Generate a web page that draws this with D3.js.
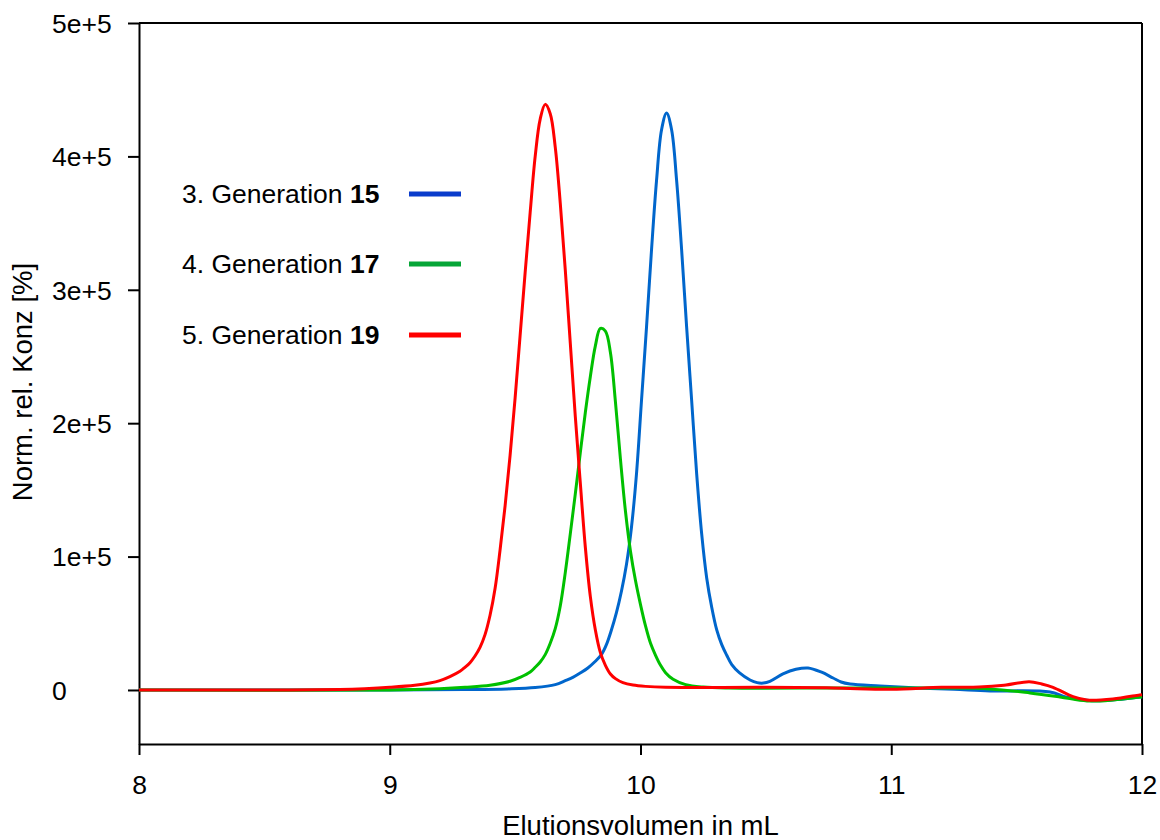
<!DOCTYPE html>
<html>
<head>
<meta charset="utf-8">
<script src="https://cdn.jsdelivr.net/npm/d3@7"></script>
<style>
  html, body { margin: 0; padding: 0; background: #fff; }
  svg { display: block; font-family: "Liberation Sans", Arial, sans-serif; }
</style>
</head>
<body>
<svg id="chart" width="1160" height="840"></svg>
<script>
// Elution volume (mL) and normalised concentration per dendrimer generation
const volGen3 = [8.0, 9.0, 9.3, 9.47, 9.58, 9.66, 9.70, 9.73, 9.759, 9.79, 9.82, 9.844, 9.864, 9.884, 9.904, 9.924, 9.944, 9.964, 9.984, 10.004, 10.024, 10.044, 10.064, 10.084, 10.104, 10.124, 10.144, 10.164, 10.184, 10.204, 10.224, 10.244, 10.264, 10.284, 10.304, 10.324, 10.344, 10.364, 10.394, 10.437, 10.465, 10.49, 10.516, 10.568, 10.62, 10.668, 10.72, 10.768, 10.80, 10.836, 10.955, 11.103, 11.25, 11.394, 11.633, 11.70, 11.80, 11.90, 12.0];
const valGen3 = [0, 0, 300, 800, 1800, 4000, 7000, 9500, 12700, 16500, 21500, 26500, 34000, 45000, 58000, 74000, 94000, 122000, 162000, 217000, 272000, 330000, 382000, 420000, 432500, 420000, 382000, 330000, 272000, 217000, 162000, 117000, 84000, 62000, 45000, 34000, 26000, 19000, 13000, 7500, 5500, 5200, 6500, 12000, 15500, 16500, 13500, 9000, 6000, 4500, 3000, 1500, 500, -700, -1500, -5500, -8000, -7200, -5000];

const volGen4 = [8.0, 9.0, 9.2, 9.3, 9.40, 9.48, 9.52, 9.56, 9.58, 9.60, 9.62, 9.64, 9.66, 9.68, 9.70, 9.72, 9.74, 9.76, 9.78, 9.80, 9.82, 9.84, 9.86, 9.88, 9.90, 9.92, 9.94, 9.96, 9.98, 10.00, 10.02, 10.04, 10.06, 10.08, 10.10, 10.13, 10.18, 10.25, 10.35, 10.8, 11.0, 11.2, 11.394, 11.553, 11.673, 11.781, 11.884, 11.992, 12.0];
const valGen4 = [0, 0, 1000, 2000, 3500, 6500, 9500, 13500, 17000, 21000, 26500, 35000, 46000, 63000, 88000, 117000, 147000, 178000, 208000, 235000, 258000, 271000, 269000, 253000, 216000, 173000, 134000, 104000, 82000, 64000, 48000, 35000, 26000, 18500, 13000, 8000, 4000, 2200, 1500, 1500, 1500, 1500, 800, -2200, -5200, -8200, -7500, -5200, -5000];

const volGen5 = [8.0, 8.6, 8.8, 8.9, 9.0, 9.10, 9.16, 9.20, 9.24, 9.28, 9.30, 9.32, 9.34, 9.36, 9.38, 9.40, 9.42, 9.44, 9.46, 9.48, 9.50, 9.52, 9.54, 9.56, 9.58, 9.60, 9.62, 9.64, 9.66, 9.68, 9.70, 9.72, 9.74, 9.76, 9.78, 9.80, 9.82, 9.84, 9.86, 9.88, 9.90, 9.93, 9.97, 10.02, 10.1, 10.5, 10.77, 11.0, 11.2, 11.35, 11.45, 11.55, 11.60, 11.645, 11.725, 11.78, 11.884, 11.99, 12.0];
const valGen5 = [0, 0, 400, 1000, 2000, 3500, 5200, 7000, 10000, 14000, 17000, 20500, 25500, 32000, 41500, 56000, 76000, 105000, 138000, 176000, 219000, 266000, 313000, 358000, 400000, 428000, 439000, 432000, 407000, 365000, 315000, 260000, 205000, 155000, 107000, 70000, 45000, 28000, 18500, 12000, 8500, 5500, 3700, 2700, 2000, 2000, 1500, 500, 2000, 2200, 3500, 6200, 4500, 2000, -5000, -7500, -6700, -3700, -3500];

const legendPrefix = ["3. Generation ", "4. Generation ", "5. Generation "];
const legendNumber = ["15", "17", "19"];
const xTicks = [8, 9, 10, 11, 12];
const yTicks = [0, 100000, 200000, 300000, 400000, 500000];
const xTitle = "Elutionsvolumen in mL";
const yTitle = "Norm. rel. Konz [%]";

const lineColors = ["#0066cc", "#00c000", "#ff0000"];
const swatchColors = ["#0a3ccc", "#06a637", "#ff0000"];

const svg = d3.select("#chart");
const plotLeft = 139, plotRight = 1142, plotTop = 23, plotBottom = 744;

const x = d3.scaleLinear().domain([8, 12]).range([plotLeft, plotRight]);
const y = d3.scaleLinear().domain([-40500, 500000]).range([plotBottom, plotTop]);

const fontFamily = "Liberation Sans, Arial, sans-serif";

// Frame: top and right border
svg.append("line").attr("x1", plotLeft).attr("x2", plotRight).attr("y1", plotTop).attr("y2", plotTop)
  .attr("stroke", "#000").attr("stroke-width", 2);
svg.append("line").attr("x1", plotRight).attr("x2", plotRight).attr("y1", plotTop).attr("y2", plotBottom)
  .attr("stroke", "#000").attr("stroke-width", 2);

// Left axis
const yAxis = svg.append("g").attr("transform", `translate(${plotLeft},0)`)
  .call(d3.axisLeft(y).tickValues(yTicks).tickSize(11).tickSizeOuter(0)
    .tickFormat(d => d === 0 ? "0" : d3.format(".0e")(d)));
yAxis.selectAll("path, line").attr("stroke", "#000").attr("stroke-width", 2);
yAxis.selectAll("text").attr("x", -87).attr("text-anchor", "start").attr("dy", "0.35em")
  .attr("font-size", 26.5).attr("fill", "#000").attr("font-family", fontFamily);

// Bottom axis
const xAxis = svg.append("g").attr("transform", `translate(0,${plotBottom})`)
  .call(d3.axisBottom(x).tickValues(xTicks).tickSize(11).tickSizeOuter(0).tickFormat(d3.format("d")));
xAxis.selectAll("path, line").attr("stroke", "#000").attr("stroke-width", 2);
xAxis.selectAll("text").attr("y", 50).attr("dy", 0)
  .attr("font-size", 26.5).attr("fill", "#000").attr("font-family", fontFamily);

// Axis titles
svg.append("text").attr("x", (plotLeft + plotRight) / 2).attr("y", 835).attr("text-anchor", "middle")
  .attr("font-size", 27.5).text(xTitle);
svg.append("text").attr("transform", "translate(32,382) rotate(-90)").attr("text-anchor", "middle")
  .attr("font-size", 27.5).text(yTitle);

// Chromatogram traces
const series = [
  { vol: volGen3, val: valGen3 },
  { vol: volGen4, val: valGen4 },
  { vol: volGen5, val: valGen5 }
];
const line = d3.line().x(d => x(d[0])).y(d => y(d[1])).curve(d3.curveCatmullRom.alpha(0.5));
series.forEach((s, i) => {
  const pts = s.vol.map((v, k) => [v, s.val[k]]);
  svg.append("path").datum(pts).attr("d", line)
    .attr("fill", "none").attr("stroke", lineColors[i]).attr("stroke-width", 3)
    .attr("stroke-linejoin", "round");
});

// Legend
const legendY = [203, 273, 344];
legendPrefix.forEach((p, i) => {
  const t = svg.append("text").attr("x", 182).attr("y", legendY[i]).attr("font-size", 26.5);
  t.append("tspan").text(p);
  t.append("tspan").attr("font-weight", "bold").text(legendNumber[i]);
  svg.append("line").attr("x1", 409).attr("x2", 461)
    .attr("y1", legendY[i] - 9).attr("y2", legendY[i] - 9)
    .attr("stroke", swatchColors[i]).attr("stroke-width", 5);
});
</script>
</body>
</html>
